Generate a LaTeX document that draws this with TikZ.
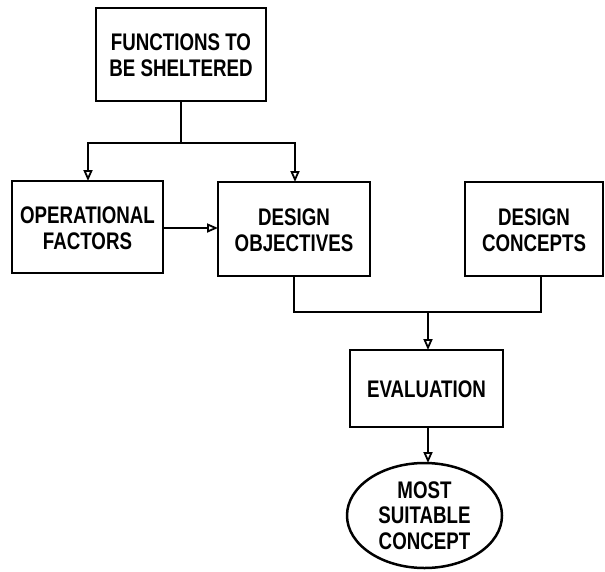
\documentclass[tikz,border=0pt]{standalone}
\usepackage{fontspec}
\setmainfont{Liberation Sans}[FakeStretch=0.78]
\usetikzlibrary{arrows.meta,shapes.geometric}
\begin{document}
\begin{tikzpicture}[x=1pt,y=-1pt,
  lbl/.style={font=\bfseries\fontsize{24}{25.5}\selectfont,align=center,inner sep=0pt},
  box/.style={draw,line width=2.5pt},
  conn/.style={line width=2.5pt},
  arr/.style={conn,-{Triangle[open,length=11pt,width=9pt,line width=1.8pt]}}]
\useasboundingbox (0,0) rectangle (605,571);
% boxes
\draw[box] (96,8) rectangle (266,101);
\node[lbl] (fun) at (181,55) {FUNCTIONS TO\\BE SHELTERED};
\coordinate (funB) at (181,101);
\draw[box] (12,181) rectangle (163,273);
\node[lbl] (op) at (87.5,228) {OPERATIONAL\\FACTORS};
\draw[box] (218,182) rectangle (370,276);
\node[lbl] (obj) at (294,230) {DESIGN\\OBJECTIVES};
\draw[box] (465,182) rectangle (603,276);
\node[lbl] (con) at (534,230) {DESIGN\\CONCEPTS};
\draw[box] (350,350) rectangle (503,427);
\node[lbl] (ev) at (426.5,389) {EVALUATION};
\node[draw,line width=2.5pt,ellipse,minimum width=155pt,minimum height=105pt,inner sep=0pt] (best) at (424.5,515.5) {};
\node[lbl] at (best.center) {MOST\\SUITABLE\\CONCEPT};
% connectors
\coordinate (split) at (181,143);
\coordinate (opT) at (88,181);
\coordinate (objT) at (295,182);
\coordinate (opR) at (163,228);
\coordinate (objL) at (218,228);
\coordinate (objB) at (294,276);
\coordinate (conB) at (541,276);
\coordinate (join) at (428,312);
\coordinate (evT) at (428,350);
\coordinate (evB) at (428,427);
\coordinate (bestT) at (428,463);
\draw[conn] (funB) -- (split);
\draw[arr] (split) -| (opT);
\draw[arr] (split) -| (objT);
\draw[arr] (opR) -- (objL);
\draw[conn] (objB) |- (join) -| (conB);
\draw[arr] (join) -- (evT);
\draw[arr] (evB) -- (bestT);
\end{tikzpicture}
\end{document}
